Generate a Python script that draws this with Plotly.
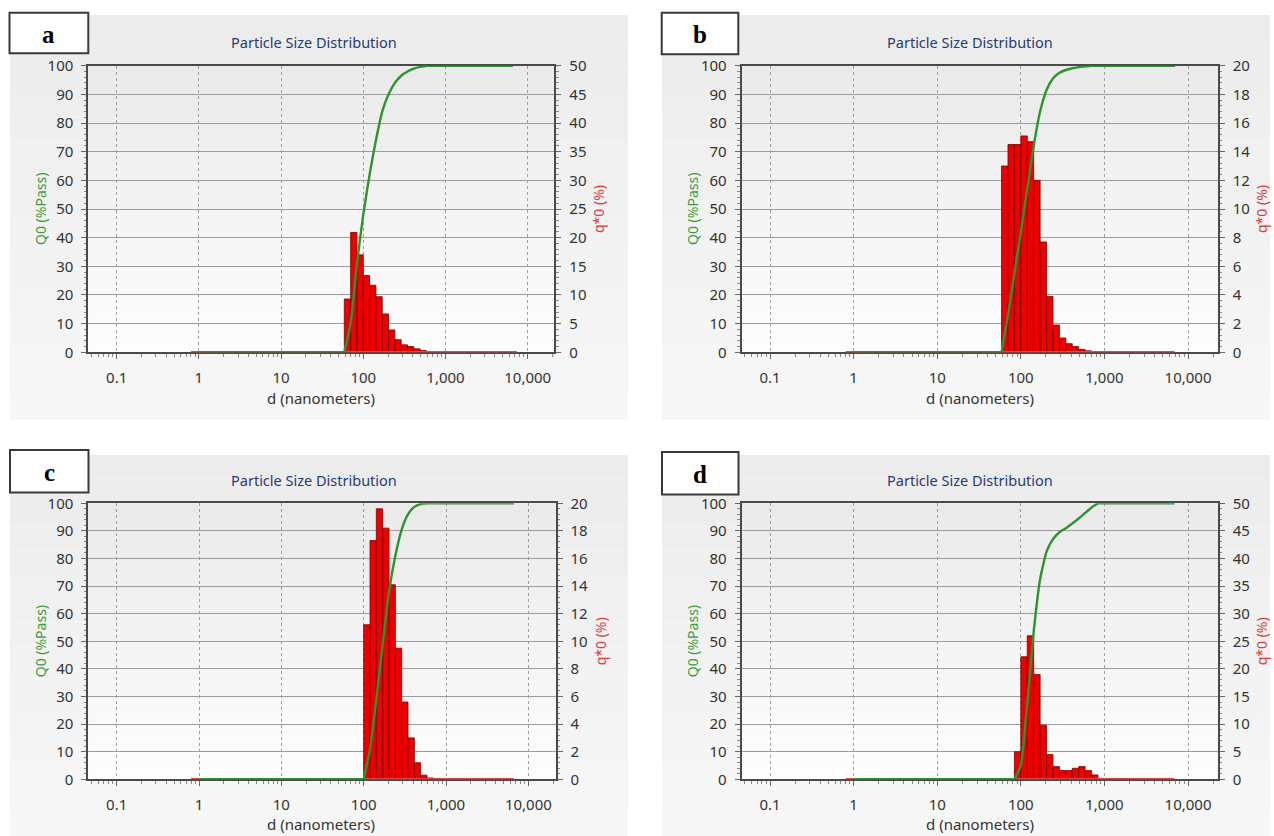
import plotly.graph_objects as go

W, H = 1274, 836

# ---------------- data ----------------
# size-class boundaries (nm), shared by all four measurements
bin_edges_nm = [58.8, 70.2, 83.8, 100.0, 119.4, 142.5, 170.1, 203.1, 242.5,
                289.4, 345.5, 412.5, 492.4, 587.8, 701.8, 837.7, 1000.0]

panel_labels = ["a", "b", "c", "d"]

# index of first populated size class for each panel
first_class = {"a": 0, "b": 0, "c": 3, "d": 2}

# q*0 (%) per size class (red bars, right axis)
q_a = [9.3, 20.9, 17.0, 13.4, 11.7, 9.7, 6.7, 3.9, 2.2, 1.3, 1.0, 0.6, 0.3]
q_b = [13.0, 14.5, 14.5, 15.1, 14.7, 12.0, 7.7, 3.9, 1.9, 1.0, 0.6, 0.4, 0.2, 0.1]
q_c = [11.2, 17.3, 19.6, 18.2, 14.1, 9.5, 5.6, 3.0, 1.2, 0.3, 0.1]
q_d = [5.0, 22.2, 26.0, 19.0, 9.8, 4.5, 2.3, 1.6, 1.6, 2.0, 2.3, 1.6, 0.8]

# Q0 (%Pass) at class boundaries (green curve, left axis)
Q_a = [0, 10, 31, 48, 62, 74, 84, 90, 94, 96.5, 98, 99, 99.6, 100]
Q_b = [0, 13, 27.5, 42, 57, 72, 84, 91.5, 95.5, 97.5, 98.5, 99.1, 99.5, 99.8, 100]
Q_c = [0, 11, 29, 49, 68, 81, 90.5, 96, 98.7, 99.7, 100, 100]
Q_d = [0, 5, 27.5, 53.5, 72.5, 82.5, 87, 89.5, 91, 92.7, 94.5, 96.5, 98.5, 100]

# extent of the flat parts of the curves (nm)
green_start_nm = {"a": 1.0, "b": 1.0, "c": 1.0, "d": 1.0}
green_end_nm = {"a": 6600, "b": 7000, "c": 6700, "d": 6900}
red_start_nm = {"a": 0.8, "b": 0.8, "c": 0.8, "d": 0.8}
red_end_nm = {"a": 7400, "b": 6900, "c": 6700, "d": 6900}

q_max = {"a": 50, "b": 20, "c": 20, "d": 50}
q_dtick = {"a": 5, "b": 2, "c": 2, "d": 5}

x_tick_vals = [0.1, 1, 10, 100, 1000, 10000]
x_tick_text = ["0.1", "1", "10", "100", "1,000", "10,000"]

q_series = {"a": q_a, "b": q_b, "c": q_c, "d": q_d}
Q_series = {"a": Q_a, "b": Q_b, "c": Q_c, "d": Q_d}

# ---------------- layout geometry (pixels) ----------------
plot_px = {  # left, top, right, bottom
    "a": (88.3, 65.7, 554.3, 352.3),
    "b": (741.7, 65.7, 1217.7, 352.3),
    "c": (88.3, 503.3, 555.5, 779.3),
    "d": (741.7, 503.3, 1217.7, 779.3),
}
x_ranges = {"a": [-1.345, 4.324], "b": [-1.339, 4.355],
            "c": [-1.345, 4.33], "d": [-1.339, 4.355]}
panel_px = {
    "a": (10, 15, 628, 420), "b": (662, 15, 1270, 420),
    "c": (10, 455, 628, 836), "d": (662, 455, 1270, 836),
}
box_px = {
    "a": (9.5, 12.7, 88.3, 53.3), "b": (661.7, 12.7, 738.3, 54.3),
    "c": (10, 450, 88.5, 492.5), "d": (662, 452, 738.5, 494.5),
}
title_px = {"a": (314, 42), "b": (970, 42), "c": (314, 480), "d": (970, 480)}
ylab_px = {"a": 40, "b": 692, "c": 40, "d": 692}
qlab_px = {"a": 598, "b": 1261, "c": 600, "d": 1261}
xlab_px = {"a": (321, 398), "b": (980, 398), "c": (321, 824), "d": (980, 824)}


def px(x):
    return x / W


def py(y):
    return 1 - y / H


FONT = "Noto Sans"
TICK_FONT = dict(family=FONT, size=15, color="#333333")
FRAME = "#4a4a4a"
GREEN = "#2f932f"

fig = go.Figure()
shapes = []
annotations = []


def lerp_gray(c0, c1, t):
    v = round(c0 + (c1 - c0) * t)
    return f"rgb({v},{v},{v})"


for i, p in enumerate(panel_labels, start=1):
    xa = "x" if i == 1 else f"x{i}"
    yb_id = 2 * i - 1
    yo_id = 2 * i
    yb = "y" if yb_id == 1 else f"y{yb_id}"
    yo = f"y{yo_id}"

    k0 = first_class[p]
    q = q_series[p]
    Q = Q_series[p]
    lo = bin_edges_nm[k0:k0 + len(q)]
    hi = bin_edges_nm[k0 + 1:k0 + 1 + len(q)]
    centers = [(a + b) / 2 for a, b in zip(lo, hi)]
    widths = [b - a for a, b in zip(lo, hi)]
    edges = bin_edges_nm[k0:k0 + len(Q)]

    # q*0 histogram bars
    fig.add_trace(go.Bar(
        x=centers, y=q, width=widths, xaxis=xa, yaxis=yb,
        marker=dict(color="#ec0000", line=dict(color="#7a0000", width=0.8))))
    # zero-level red line of q*0 (0 on both axes)
    fig.add_trace(go.Scatter(
        x=[red_start_nm[p], red_end_nm[p]], y=[0, 0], mode="lines",
        line=dict(color="#e04848", width=2.4), xaxis=xa, yaxis=yo,
        cliponaxis=False, hoverinfo="skip"))
    # Q0: flat part before the first class
    fig.add_trace(go.Scatter(
        x=[green_start_nm[p], edges[0]], y=[0, Q[0]], mode="lines",
        line=dict(color=GREEN, width=2.4), xaxis=xa, yaxis=yo,
        cliponaxis=False, hoverinfo="skip"))
    # Q0 cumulative curve across the classes
    fig.add_trace(go.Scatter(
        x=edges, y=Q, mode="lines",
        line=dict(color=GREEN, width=2.4, shape="spline", smoothing=0.5),
        xaxis=xa, yaxis=yo, cliponaxis=False, hoverinfo="skip"))
    # Q0: flat part after the last class
    fig.add_trace(go.Scatter(
        x=[edges[-1], green_end_nm[p]], y=[Q[-1], 100], mode="lines",
        line=dict(color=GREEN, width=2.4), xaxis=xa, yaxis=yo,
        cliponaxis=False, hoverinfo="skip"))

    l, t, r, b = plot_px[p]
    dom_x = [px(l), px(r)]
    dom_y = [py(b), py(t)]

    fig.layout[f"xaxis{'' if i == 1 else i}"] = dict(
        type="log", range=x_ranges[p], domain=dom_x, anchor=yb,
        tickmode="array", tickvals=x_tick_vals, ticktext=x_tick_text,
        ticks="outside", ticklen=5, tickwidth=1, tickcolor="#666",
        minor=dict(ticks="outside", ticklen=3, tickcolor="#888",
                   tickvals=[m * 10 ** e for e in range(-2, 5) for m in range(2, 10)],
                   showgrid=False),
        showgrid=True, gridcolor="#a0a0a0", griddash="3px,3px", gridwidth=1,
        showline=True, linecolor=FRAME, linewidth=2, mirror=True,
        zeroline=False, tickfont=TICK_FONT, ticklabelstandoff=6,
        layer="below traces", fixedrange=True)

    fig.layout[f"yaxis{'' if yb_id == 1 else yb_id}"] = dict(
        domain=dom_y, anchor=xa, side="right", range=[0, q_max[p]],
        tickmode="linear", tick0=0, dtick=q_dtick[p],
        ticks="outside", ticklen=5, tickcolor="#666",
        minor=dict(ticks="outside", ticklen=2.5, tickcolor="#888",
                   dtick=q_dtick[p] / 5, showgrid=False),
        showgrid=False, showline=True, linecolor=FRAME, linewidth=2,
        zeroline=False, tickfont=TICK_FONT, ticklabelstandoff=5,
        layer="below traces", fixedrange=True)

    fig.layout[f"yaxis{yo_id}"] = dict(
        overlaying=yb, anchor=xa, side="left", range=[0, 100],
        tickmode="linear", tick0=0, dtick=10,
        ticks="outside", ticklen=5, tickcolor="#666",
        minor=dict(ticks="outside", ticklen=2.5, tickcolor="#888",
                   dtick=2, showgrid=False),
        showgrid=True, gridcolor="#9c9c9c", gridwidth=1,
        showline=True, linecolor=FRAME, linewidth=2,
        zeroline=False, tickfont=TICK_FONT, ticklabelstandoff=5,
        layer="below traces", fixedrange=True)

    # panel background (vertical gradient)
    pl, pt, pr, pb = panel_px[p]
    n = 16
    for k in range(n):
        y0 = pt + (pb - pt) * k / n
        y1 = pt + (pb - pt) * (k + 1) / n
        shapes.append(dict(type="rect", xref="paper", yref="paper",
                           x0=px(pl), x1=px(pr), y0=py(y1), y1=py(y0),
                           fillcolor=lerp_gray(236, 247, k / (n - 1)),
                           line=dict(width=0), layer="below"))
    # plot-area background gradient
    n = 24
    for k in range(n):
        y0 = t + (b - t) * k / n
        y1 = t + (b - t) * (k + 1) / n
        shapes.append(dict(type="rect", xref="paper", yref="paper",
                           x0=px(l), x1=px(r), y0=py(y1), y1=py(y0),
                           fillcolor=lerp_gray(234, 253, k / (n - 1)),
                           line=dict(width=0), layer="below"))
    # label box
    bl, bt, br, bb = box_px[p]
    shapes.append(dict(type="rect", xref="paper", yref="paper",
                       x0=px(bl), x1=px(br), y0=py(bb), y1=py(bt),
                       fillcolor="white", line=dict(color="#3a3a3a", width=2),
                       layer="above"))
    annotations.append(dict(text=f"<b>{p}</b>", x=px((bl + br) / 2),
                            y=py((bt + bb) / 2 + 1), xref="paper", yref="paper",
                            showarrow=False, xanchor="center", yanchor="middle",
                            font=dict(family="Liberation Serif", size=25, color="black")))
    # chart title
    tx, ty = title_px[p]
    annotations.append(dict(text="Particle Size Distribution", x=px(tx), y=py(ty),
                            xref="paper", yref="paper", showarrow=False,
                            xanchor="center", yanchor="middle",
                            font=dict(family=FONT, size=14.5, color="#283a78")))
    # axis titles
    cy = (t + b) / 2
    annotations.append(dict(text="Q0 (%Pass)", x=px(ylab_px[p]), y=py(cy),
                            xref="paper", yref="paper", showarrow=False,
                            textangle=-90, xanchor="center", yanchor="middle",
                            font=dict(family=FONT, size=14, color="#3c9c3c")))
    annotations.append(dict(text="q*0 (%)", x=px(qlab_px[p]), y=py(cy),
                            xref="paper", yref="paper", showarrow=False,
                            textangle=-90, xanchor="center", yanchor="middle",
                            font=dict(family=FONT, size=14, color="#d83c3c")))
    lx, ly = xlab_px[p]
    annotations.append(dict(text="d (nanometers)", x=px(lx), y=py(ly),
                            xref="paper", yref="paper", showarrow=False,
                            xanchor="center", yanchor="middle",
                            font=dict(family=FONT, size=15, color="#333333")))

fig.update_layout(
    width=W, height=H, margin=dict(l=0, r=0, t=0, b=0, autoexpand=False),
    paper_bgcolor="white", plot_bgcolor="rgba(0,0,0,0)",
    showlegend=False, barmode="overlay",
    shapes=shapes, annotations=annotations,
)

fig.write_html(
    "out.html",
    config={"displayModeBar": False},
    post_script="document.body.style.margin='0px';"
                "document.body.style.overflow='hidden';",
)
